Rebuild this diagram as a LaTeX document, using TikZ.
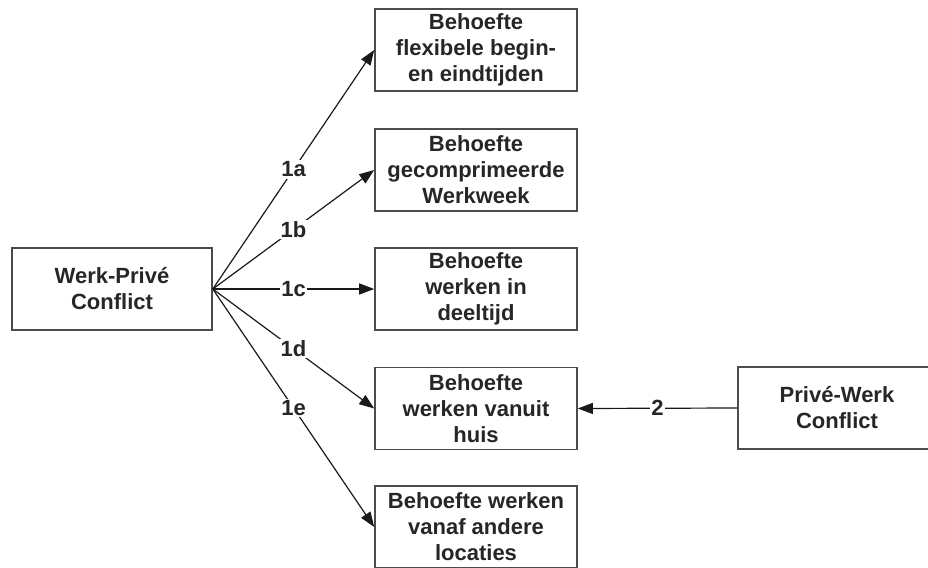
\documentclass[tikz,border=0pt]{standalone}
\usepackage{fontspec}
\setmainfont{Liberation Sans}
\usetikzlibrary{arrows.meta, positioning}

\begin{document}
\begin{tikzpicture}[x=1pt, y=-1pt,
  box/.style={draw=black!70, line width=1.6pt, fill=white, minimum width=202pt, minimum height=82pt, inner sep=0pt, align=center, font=\fontsize{22}{26}\selectfont\bfseries, text=black!85},
  link/.style={-{Triangle[length=15pt, width=11pt]}, line width=1.2pt, black!90},
  lbl/.style={fill=white, inner sep=1.5pt, font=\fontsize{22}{26}\selectfont\bfseries, text=black!85}]
  \useasboundingbox (0,0) rectangle (928,567);
  \clip (0,0) rectangle (928,567);

  % Sources
  \node[box, minimum width=200pt] (wp) at (112, 289) {Werk-Privé\\Conflict};
  \node[box, minimum width=198pt] (pw) at (837, 408) {Privé-Werk\\Conflict};

  % Needs
  \node[box] (flex) at (476, 50) {Behoefte\\flexibele begin-\\en eindtijden};
  \node[box] (comp) at (476, 170) {Behoefte\\gecomprimeerde\\Werkweek};
  \node[box] (deel) at (476, 289) {Behoefte\\werken in\\deeltijd};
  \node[box] (huis) at (476, 408.5) {Behoefte\\werken vanuit\\huis};
  \node[box] (loc) at (476, 527) {Behoefte werken\\vanaf andere\\locaties};

  % Links
  \draw[link] (wp.east) -- node[lbl] {1a} (flex.west);
  \draw[link] (wp.east) -- node[lbl] {1b} (comp.west);
  \draw[link] (wp.east) -- node[lbl] {1c} (deel.west);
  \draw[link] (wp.east) -- node[lbl] {1d} (huis.west);
  \draw[link] (wp.east) -- node[lbl] {1e} (loc.west);
  \draw[link] (pw.west) -- node[lbl] {2} (huis.east);
\end{tikzpicture}
\end{document}
